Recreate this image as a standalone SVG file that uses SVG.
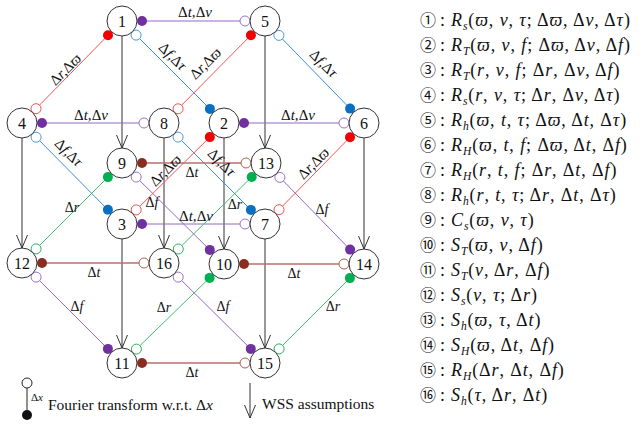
<svg xmlns="http://www.w3.org/2000/svg" width="642" height="426" viewBox="0 0 642 426">
<defs>
<marker id="wss" viewBox="0 0 14 14" refX="13" refY="7" markerWidth="14" markerHeight="14" orient="auto" markerUnits="userSpaceOnUse"><path d="M0,1.5 L13,7 L0,12.5" fill="none" stroke="#333" stroke-width="1"/></marker>
<style>
.nd circle{fill:#fff;stroke:#333;stroke-width:1}
.nd text{font-family:"Liberation Serif",serif;font-size:16px;text-anchor:middle;fill:#111}
.ar{stroke:#333;stroke-width:1;fill:none;marker-end:url(#wss)}
.pl{stroke:#9468c8;stroke-width:1}
.rl{stroke:#ff5050;stroke-width:1}
.bl{stroke:#3a8fd6;stroke-width:1}
.gl{stroke:#3cc070;stroke-width:1}
.wl{stroke:#b87068;stroke-width:1.3}
.pf{fill:#7030a0}.po{fill:#fff;stroke:#9a72cc;stroke-width:1}
.rf{fill:#f00000}.ro{fill:#fff;stroke:#f05050;stroke-width:1}
.bf{fill:#0a6fc0}.bo{fill:#fff;stroke:#4a9ad8;stroke-width:1}
.gf{fill:#00b050}.go{fill:#fff;stroke:#30b060;stroke-width:1}
.wf{fill:#8b2c22}.wo{fill:#fff;stroke:#b06050;stroke-width:1}
.lb{font-family:"Liberation Serif",serif;font-size:15px;font-style:italic;fill:#111;text-anchor:middle}
.ls{font-family:"Liberation Serif",serif;font-size:14px;font-style:italic;fill:#111;text-anchor:middle}
.u{font-style:normal}
.lst{font-family:"Liberation Serif",serif;font-size:18px;fill:#111;letter-spacing:0.9px}
.i{font-style:italic}
.sb{font-size:11.5px;font-style:italic}
.cn{font-family:"Noto Sans CJK SC",sans-serif;font-size:16px;letter-spacing:0}
.lg{font-family:"Liberation Serif",serif;font-size:15.5px;fill:#111}
</style>
</defs>
<g id="connectors">
<line class="ar" x1="122" y1="36" x2="122" y2="148"/>
<line class="ar" x1="265" y1="36" x2="265" y2="148"/>
<line class="ar" x1="22" y1="138" x2="22" y2="248"/>
<line class="ar" x1="164" y1="138" x2="164" y2="248"/>
<line class="ar" x1="224" y1="138" x2="224" y2="249"/>
<line class="ar" x1="364" y1="138" x2="364" y2="249"/>
<line class="ar" x1="122" y1="239" x2="122" y2="348"/>
<line class="ar" x1="265" y1="239" x2="265" y2="348"/>
<line class="pl" x1="142" y1="21" x2="245" y2="21"/>
<line class="pl" x1="42" y1="123" x2="144" y2="123"/>
<line class="pl" x1="244" y1="123" x2="344" y2="123"/>
<line class="pl" x1="142" y1="224" x2="245" y2="224"/>
<line class="rl" x1="108" y1="35.3" x2="36" y2="108.7"/>
<line class="rl" x1="250.9" y1="35.2" x2="178.1" y2="108.8"/>
<line class="rl" x1="209.8" y1="137.1" x2="136.2" y2="209.9"/>
<line class="rl" x1="350" y1="137.3" x2="279" y2="209.7"/>
<line class="bl" x1="209.9" y1="108.9" x2="136.1" y2="35.1"/>
<line class="bl" x1="350.1" y1="108.6" x2="278.9" y2="35.4"/>
<line class="bl" x1="107.9" y1="209.8" x2="36.1" y2="137.2"/>
<line class="bl" x1="250.9" y1="209.9" x2="178.1" y2="137.1"/>
<line class="wl" x1="142" y1="163" x2="246" y2="163"/>
<line class="wl" x1="42" y1="263" x2="144" y2="263"/>
<line class="wl" x1="244" y1="264" x2="344" y2="264"/>
<line class="wl" x1="142" y1="363" x2="245" y2="363"/>
<line class="gl" x1="107.9" y1="177.1" x2="36.1" y2="248.9"/>
<line class="gl" x1="251.7" y1="177" x2="178.3" y2="249"/>
<line class="gl" x1="209.6" y1="277.9" x2="136.4" y2="349.1"/>
<line class="gl" x1="349.9" y1="278.1" x2="279.1" y2="348.9"/>
<line class="pl" x1="209.8" y1="249.9" x2="136.2" y2="177.1"/>
<line class="pl" x1="350.1" y1="249.6" x2="279.9" y2="177.4"/>
<line class="pl" x1="107.9" y1="348.9" x2="36.1" y2="277.1"/>
<line class="pl" x1="250.8" y1="348.9" x2="178.2" y2="277.1"/>
<circle class="pf" cx="142" cy="21" r="5"/><circle class="po" cx="245" cy="21" r="5"/>
<circle class="pf" cx="42" cy="123" r="5"/><circle class="po" cx="144" cy="123" r="5"/>
<circle class="pf" cx="244" cy="123" r="5"/><circle class="po" cx="344" cy="123" r="5"/>
<circle class="pf" cx="142" cy="224" r="5"/><circle class="po" cx="245" cy="224" r="5"/>
<circle class="rf" cx="108" cy="35.3" r="5"/><circle class="ro" cx="36" cy="108.7" r="5"/>
<circle class="rf" cx="250.9" cy="35.2" r="5"/><circle class="ro" cx="178.1" cy="108.8" r="5"/>
<circle class="rf" cx="209.8" cy="137.1" r="5"/><circle class="ro" cx="136.2" cy="209.9" r="5"/>
<circle class="rf" cx="350" cy="137.3" r="5"/><circle class="ro" cx="279" cy="209.7" r="5"/>
<circle class="bf" cx="209.9" cy="108.9" r="5"/><circle class="bo" cx="136.1" cy="35.1" r="5"/>
<circle class="bf" cx="350.1" cy="108.6" r="5"/><circle class="bo" cx="278.9" cy="35.4" r="5"/>
<circle class="bf" cx="107.9" cy="209.8" r="5"/><circle class="bo" cx="36.1" cy="137.2" r="5"/>
<circle class="bf" cx="250.9" cy="209.9" r="5"/><circle class="bo" cx="178.1" cy="137.1" r="5"/>
<circle class="wf" cx="142" cy="163" r="5"/><circle class="wo" cx="246" cy="163" r="5"/>
<circle class="wf" cx="42" cy="263" r="5"/><circle class="wo" cx="144" cy="263" r="5"/>
<circle class="wf" cx="244" cy="264" r="5"/><circle class="wo" cx="344" cy="264" r="5"/>
<circle class="wf" cx="142" cy="363" r="5"/><circle class="wo" cx="245" cy="363" r="5"/>
<circle class="gf" cx="107.9" cy="177.1" r="5"/><circle class="go" cx="36.1" cy="248.9" r="5"/>
<circle class="gf" cx="251.7" cy="177" r="5"/><circle class="go" cx="178.3" cy="249" r="5"/>
<circle class="gf" cx="209.6" cy="277.9" r="5"/><circle class="go" cx="136.4" cy="349.1" r="5"/>
<circle class="gf" cx="349.9" cy="278.1" r="5"/><circle class="go" cx="279.1" cy="348.9" r="5"/>
<circle class="pf" cx="209.8" cy="249.9" r="5"/><circle class="po" cx="136.2" cy="177.1" r="5"/>
<circle class="pf" cx="350.1" cy="249.6" r="5"/><circle class="po" cx="279.9" cy="177.4" r="5"/>
<circle class="pf" cx="107.9" cy="348.9" r="5"/><circle class="po" cx="36.1" cy="277.1" r="5"/>
<circle class="pf" cx="250.8" cy="348.9" r="5"/><circle class="po" cx="178.2" cy="277.1" r="5"/>
<text class="lb" x="195" y="17"><tspan class="u">Δ</tspan>t,<tspan class="u">Δ</tspan>ν</text>
<text class="lb" x="91" y="120"><tspan class="u">Δ</tspan>t,<tspan class="u">Δ</tspan>ν</text>
<text class="lb" x="298" y="120"><tspan class="u">Δ</tspan>t,<tspan class="u">Δ</tspan>ν</text>
<text class="lb" x="196" y="221"><tspan class="u">Δ</tspan>t,<tspan class="u">Δ</tspan>ν</text>
<text class="lb" transform="translate(66,70) rotate(-45)" x="0" y="4"><tspan class="u">Δ</tspan>r,<tspan class="u">Δ</tspan>ϖ</text>
<text class="lb" transform="translate(206,64) rotate(-45)" x="0" y="4"><tspan class="u">Δ</tspan>r,<tspan class="u">Δ</tspan>ϖ</text>
<text class="lb" transform="translate(166,171) rotate(-45)" x="0" y="4"><tspan class="u">Δ</tspan>r,<tspan class="u">Δ</tspan>ϖ</text>
<text class="lb" transform="translate(314,164) rotate(-45)" x="0" y="4"><tspan class="u">Δ</tspan>r,<tspan class="u">Δ</tspan>ϖ</text>
<text class="lb" transform="translate(172,57) rotate(45)" x="0" y="4"><tspan class="u">Δ</tspan>f,<tspan class="u">Δ</tspan>τ</text>
<text class="lb" transform="translate(323,64) rotate(45)" x="0" y="4"><tspan class="u">Δ</tspan>f,<tspan class="u">Δ</tspan>τ</text>
<text class="lb" transform="translate(68,153) rotate(45)" x="0" y="4"><tspan class="u">Δ</tspan>f,<tspan class="u">Δ</tspan>τ</text>
<text class="lb" transform="translate(221,163) rotate(45)" x="0" y="4"><tspan class="u">Δ</tspan>f,<tspan class="u">Δ</tspan>τ</text>
<text class="ls" x="192" y="177"><tspan class="u">Δ</tspan>t</text>
<text class="ls" x="94" y="277"><tspan class="u">Δ</tspan>t</text>
<text class="ls" x="294" y="278"><tspan class="u">Δ</tspan>t</text>
<text class="ls" x="192" y="377"><tspan class="u">Δ</tspan>t</text>
<text class="ls" x="72" y="212"><tspan class="u">Δ</tspan>r</text>
<text class="ls" x="235" y="209"><tspan class="u">Δ</tspan>r</text>
<text class="ls" x="164" y="312"><tspan class="u">Δ</tspan>r</text>
<text class="ls" x="333" y="311"><tspan class="u">Δ</tspan>r</text>
<text class="ls" x="152" y="207"><tspan class="u">Δ</tspan>f</text>
<text class="ls" x="322" y="214"><tspan class="u">Δ</tspan>f</text>
<text class="ls" x="77" y="311"><tspan class="u">Δ</tspan>f</text>
<text class="ls" x="223" y="311"><tspan class="u">Δ</tspan>f</text>
</g>
<g id="n1" class="nd"><circle cx="122" cy="21" r="15"/><text x="122" y="26.5">1</text></g>
<g id="n2" class="nd"><circle cx="224" cy="123" r="15"/><text x="224" y="128.5">2</text></g>
<g id="n3" class="nd"><circle cx="122" cy="224" r="15"/><text x="122" y="229.5">3</text></g>
<g id="n4" class="nd"><circle cx="22" cy="123" r="15"/><text x="22" y="128.5">4</text></g>
<g id="n5" class="nd"><circle cx="265" cy="21" r="15"/><text x="265" y="26.5">5</text></g>
<g id="n6" class="nd"><circle cx="364" cy="123" r="15"/><text x="364" y="128.5">6</text></g>
<g id="n7" class="nd"><circle cx="265" cy="224" r="15"/><text x="265" y="229.5">7</text></g>
<g id="n8" class="nd"><circle cx="164" cy="123" r="15"/><text x="164" y="128.5">8</text></g>
<g id="n9" class="nd"><circle cx="122" cy="163" r="15"/><text x="122" y="168.5">9</text></g>
<g id="n10" class="nd"><circle cx="224" cy="264" r="15"/><text x="224" y="269.5">10</text></g>
<g id="n11" class="nd"><circle cx="122" cy="363" r="15"/><text x="122" y="368.5">11</text></g>
<g id="n12" class="nd"><circle cx="22" cy="263" r="15"/><text x="22" y="268.5">12</text></g>
<g id="n13" class="nd"><circle cx="266" cy="163" r="15"/><text x="266" y="168.5">13</text></g>
<g id="n14" class="nd"><circle cx="364" cy="264" r="15"/><text x="364" y="269.5">14</text></g>
<g id="n15" class="nd"><circle cx="265" cy="363" r="15"/><text x="265" y="368.5">15</text></g>
<g id="n16" class="nd"><circle cx="164" cy="263" r="15"/><text x="164" y="268.5">16</text></g>
<g id="legend">
<circle cx="27" cy="383" r="5" fill="#fff" stroke="#222" stroke-width="1"/>
<line x1="27" y1="388" x2="27" y2="410" stroke="#222" stroke-width="1"/>
<circle cx="27" cy="415" r="5" fill="#111"/>
<text x="31" y="401" style="font-family:'Liberation Serif',serif;font-size:11px;fill:#111">Δ<tspan class="i">x</tspan></text>
<text class="lg" x="48" y="410">Fourier transform w.r.t. Δ<tspan class="i">x</tspan></text>
<line class="ar" x1="250" y1="383" x2="250" y2="418"/>
<text class="lg" x="262" y="409">WSS assumptions</text>
</g>
<g id="list">
<text class="lst" y="26"><tspan class="cn" x="420">①</tspan><tspan x="440">:</tspan><tspan x="451" class="i">R</tspan><tspan class="sb" dy="4">s</tspan><tspan dy="-4">(</tspan><tspan class="i">ϖ</tspan>, <tspan class="i">ν</tspan>, <tspan class="i">τ</tspan>; Δ<tspan class="i">ϖ</tspan>, Δ<tspan class="i">ν</tspan>, Δ<tspan class="i">τ</tspan>)</text>
<text class="lst" y="51"><tspan class="cn" x="420">②</tspan><tspan x="440">:</tspan><tspan x="451" class="i">R</tspan><tspan class="sb" dy="4">T</tspan><tspan dy="-4">(</tspan><tspan class="i">ϖ</tspan>, <tspan class="i">ν</tspan>, <tspan class="i">f</tspan>; Δ<tspan class="i">ϖ</tspan>, Δ<tspan class="i">ν</tspan>, Δ<tspan class="i">f</tspan>)</text>
<text class="lst" y="76"><tspan class="cn" x="420">③</tspan><tspan x="440">:</tspan><tspan x="451" class="i">R</tspan><tspan class="sb" dy="4">T</tspan><tspan dy="-4">(</tspan><tspan class="i">r</tspan>, <tspan class="i">ν</tspan>, <tspan class="i">f</tspan>; Δ<tspan class="i">r</tspan>, Δ<tspan class="i">ν</tspan>, Δ<tspan class="i">f</tspan>)</text>
<text class="lst" y="101"><tspan class="cn" x="420">④</tspan><tspan x="440">:</tspan><tspan x="451" class="i">R</tspan><tspan class="sb" dy="4">s</tspan><tspan dy="-4">(</tspan><tspan class="i">r</tspan>, <tspan class="i">ν</tspan>, <tspan class="i">τ</tspan>; Δ<tspan class="i">r</tspan>, Δ<tspan class="i">ν</tspan>, Δ<tspan class="i">τ</tspan>)</text>
<text class="lst" y="126"><tspan class="cn" x="420">⑤</tspan><tspan x="440">:</tspan><tspan x="451" class="i">R</tspan><tspan class="sb" dy="4">h</tspan><tspan dy="-4">(</tspan><tspan class="i">ϖ</tspan>, <tspan class="i">t</tspan>, <tspan class="i">τ</tspan>; Δ<tspan class="i">ϖ</tspan>, Δ<tspan class="i">t</tspan>, Δ<tspan class="i">τ</tspan>)</text>
<text class="lst" y="151"><tspan class="cn" x="420">⑥</tspan><tspan x="440">:</tspan><tspan x="451" class="i">R</tspan><tspan class="sb" dy="4">H</tspan><tspan dy="-4">(</tspan><tspan class="i">ϖ</tspan>, <tspan class="i">t</tspan>, <tspan class="i">f</tspan>; Δ<tspan class="i">ϖ</tspan>, Δ<tspan class="i">t</tspan>, Δ<tspan class="i">f</tspan>)</text>
<text class="lst" y="176"><tspan class="cn" x="420">⑦</tspan><tspan x="440">:</tspan><tspan x="451" class="i">R</tspan><tspan class="sb" dy="4">H</tspan><tspan dy="-4">(</tspan><tspan class="i">r</tspan>, <tspan class="i">t</tspan>, <tspan class="i">f</tspan>; Δ<tspan class="i">r</tspan>, Δ<tspan class="i">t</tspan>, Δ<tspan class="i">f</tspan>)</text>
<text class="lst" y="201"><tspan class="cn" x="420">⑧</tspan><tspan x="440">:</tspan><tspan x="451" class="i">R</tspan><tspan class="sb" dy="4">h</tspan><tspan dy="-4">(</tspan><tspan class="i">r</tspan>, <tspan class="i">t</tspan>, <tspan class="i">τ</tspan>; Δ<tspan class="i">r</tspan>, Δ<tspan class="i">t</tspan>, Δ<tspan class="i">τ</tspan>)</text>
<text class="lst" y="226"><tspan class="cn" x="420">⑨</tspan><tspan x="440">:</tspan><tspan x="451" class="i">C</tspan><tspan class="sb" dy="4">s</tspan><tspan dy="-4">(</tspan><tspan class="i">ϖ</tspan>, <tspan class="i">ν</tspan>, <tspan class="i">τ</tspan>)</text>
<text class="lst" y="251"><tspan class="cn" x="420">⑩</tspan><tspan x="440">:</tspan><tspan x="451" class="i">S</tspan><tspan class="sb" dy="4">T</tspan><tspan dy="-4">(</tspan><tspan class="i">ϖ</tspan>, <tspan class="i">ν</tspan>, Δ<tspan class="i">f</tspan>)</text>
<text class="lst" y="276"><tspan class="cn" x="420">⑪</tspan><tspan x="440">:</tspan><tspan x="451" class="i">S</tspan><tspan class="sb" dy="4">T</tspan><tspan dy="-4">(</tspan><tspan class="i">ν</tspan>, Δ<tspan class="i">r</tspan>, Δ<tspan class="i">f</tspan>)</text>
<text class="lst" y="301"><tspan class="cn" x="420">⑫</tspan><tspan x="440">:</tspan><tspan x="451" class="i">S</tspan><tspan class="sb" dy="4">s</tspan><tspan dy="-4">(</tspan><tspan class="i">ν</tspan>, <tspan class="i">τ</tspan>; Δ<tspan class="i">r</tspan>)</text>
<text class="lst" y="326"><tspan class="cn" x="420">⑬</tspan><tspan x="440">:</tspan><tspan x="451" class="i">S</tspan><tspan class="sb" dy="4">h</tspan><tspan dy="-4">(</tspan><tspan class="i">ϖ</tspan>, <tspan class="i">τ</tspan>, Δ<tspan class="i">t</tspan>)</text>
<text class="lst" y="351"><tspan class="cn" x="420">⑭</tspan><tspan x="440">:</tspan><tspan x="451" class="i">S</tspan><tspan class="sb" dy="4">H</tspan><tspan dy="-4">(</tspan><tspan class="i">ϖ</tspan>, Δ<tspan class="i">t</tspan>, Δ<tspan class="i">f</tspan>)</text>
<text class="lst" y="376"><tspan class="cn" x="420">⑮</tspan><tspan x="440">:</tspan><tspan x="451" class="i">R</tspan><tspan class="sb" dy="4">H</tspan><tspan dy="-4">(</tspan>Δ<tspan class="i">r</tspan>, Δ<tspan class="i">t</tspan>, Δ<tspan class="i">f</tspan>)</text>
<text class="lst" y="401"><tspan class="cn" x="420">⑯</tspan><tspan x="440">:</tspan><tspan x="451" class="i">S</tspan><tspan class="sb" dy="4">h</tspan><tspan dy="-4">(</tspan><tspan class="i">τ</tspan>, Δ<tspan class="i">r</tspan>, Δ<tspan class="i">t</tspan>)</text>
</g>
</svg>
